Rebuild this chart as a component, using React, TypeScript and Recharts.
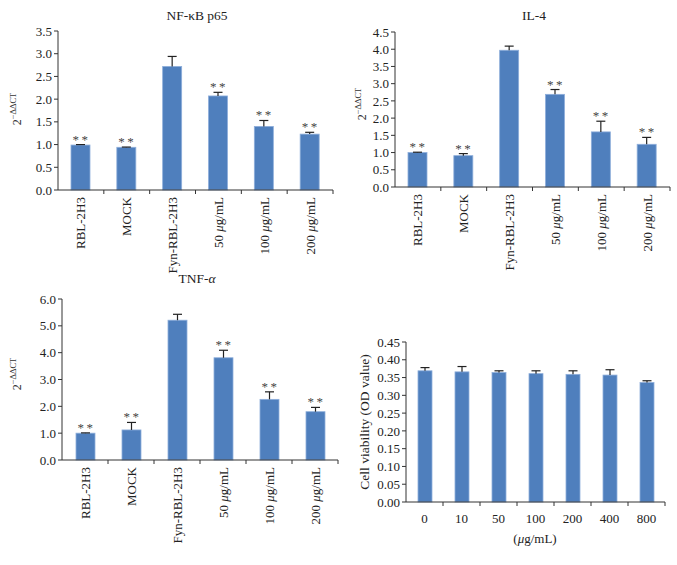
import React from 'react';
import { BarChart, Bar, XAxis, YAxis } from 'recharts';

const geneCategories = ['RBL-2H3', 'MOCK', 'Fyn-RBL-2H3', '50 μg/mL', '100 μg/mL', '200 μg/mL'];
const geneSignificance = ['**', '**', '', '**', '**', '**'];

const nfkbValues = [0.99, 0.94, 2.72, 2.07, 1.4, 1.23];
const nfkbErrors = [0.01, 0.005, 0.22, 0.08, 0.13, 0.04];
const nfkbTicks = [0, 0.5, 1, 1.5, 2, 2.5, 3, 3.5];

const il4Values = [1.0, 0.91, 3.97, 2.69, 1.6, 1.24];
const il4Errors = [0.01, 0.06, 0.12, 0.14, 0.31, 0.2];
const il4Ticks = [0, 0.5, 1, 1.5, 2, 2.5, 3, 3.5, 4, 4.5];

const tnfValues = [1.0, 1.12, 5.21, 3.81, 2.26, 1.8];
const tnfErrors = [0.01, 0.28, 0.22, 0.28, 0.28, 0.16];
const tnfTicks = [0, 1, 2, 3, 4, 5, 6];

const doseCategories = ['0', '10', '50', '100', '200', '400', '800'];
const viabilityValues = [0.369, 0.366, 0.364, 0.361, 0.359, 0.357, 0.336];
const viabilityErrors = [0.009, 0.015, 0.005, 0.008, 0.01, 0.015, 0.005];
const viabilityTicks = [0, 0.05, 0.1, 0.15, 0.2, 0.25, 0.3, 0.35, 0.4, 0.45];

const FONT = '"Liberation Serif", "Times New Roman", serif';
const BAR = '#4f7fbd';
const TEXT = '#222';

function build(cats: string[], vals: number[], errs: number[], sig?: string[]) {
  return cats.map((c, i) => ({ name: c, value: vals[i], err: errs[i], sig: sig ? sig[i] : '' }));
}

const ErrShape = (props: any) => {
  const { x, y, width, height, payload } = props;
  if (!payload || !(height > 0)) return null;
  const ppu = height / payload.value;
  const top = y - payload.err * ppu;
  const cx = x + width / 2;
  return (
    <g>
      <rect x={x} y={y} width={width} height={height} fill={BAR} stroke="#8eaedb" strokeWidth={0.8} />
      <line x1={cx} x2={cx} y1={y} y2={top} stroke="#222" strokeWidth={1.2} />
      <line x1={cx - 4.5} x2={cx + 4.5} y1={top} y2={top} stroke="#222" strokeWidth={1.2} />
      {payload.sig ? (
        <text x={cx + 1} y={top - 1} textAnchor="middle" fontFamily={FONT} fontSize={13} fill="#444" letterSpacing={2.5}>
          {payload.sig}
        </text>
      ) : null}
    </g>
  );
};

const renderLabel = (s: string) => {
  const idx = s.indexOf('μ');
  if (idx < 0) return s;
  return [
    <tspan key="a">{s.slice(0, idx)}</tspan>,
    <tspan key="b" fontStyle="italic">μ</tspan>,
    <tspan key="c">{s.slice(idx + 1)}</tspan>,
  ];
};

const makeCatTick = (fallbackHalf: number, rotated: boolean) => (props: any) => {
  const { x, y, payload } = props;
  const half = payload && payload.offset ? payload.offset : fallbackHalf;
  return (
    <g>
      <line x1={x + half} x2={x + half} y1={y} y2={y + 4} stroke="#333" strokeWidth={1} />
      {rotated ? (
        <text
          transform={`translate(${x},${y + 7}) rotate(-90)`}
          textAnchor="end"
          dominantBaseline="central"
          fontFamily={FONT}
          fontSize={13}
          fill={TEXT}
        >
          {renderLabel(String(payload.value))}
        </text>
      ) : (
        <text x={x} y={y + 16} textAnchor="middle" dominantBaseline="central" fontFamily={FONT} fontSize={13} fill={TEXT}>
          {String(payload.value)}
        </text>
      )}
    </g>
  );
};

type PanelProps = {
  data: any[];
  ticks: number[];
  digits: number;
  width: number;
  height: number;
  margin: any;
  yWidth: number;
  xHeight: number;
  barSize: number;
  rotated: boolean;
  fallbackHalf: number;
};

const Panel = (p: PanelProps) => (
  <BarChart width={p.width} height={p.height} data={p.data} margin={p.margin}>
    <XAxis
      dataKey="name"
      interval={0}
      tickLine={false}
      tickSize={0}
      tickMargin={0}
      height={p.xHeight}
      axisLine={{ stroke: '#333' }}
      tick={makeCatTick(p.fallbackHalf, p.rotated)}
    />
    <YAxis
      width={p.yWidth}
      domain={[0, p.ticks[p.ticks.length - 1]]}
      ticks={p.ticks}
      interval={0}
      tickSize={4}
      tickMargin={2}
      tickLine={{ stroke: '#333' }}
      axisLine={{ stroke: '#333' }}
      tick={{ fontFamily: FONT, fontSize: 13, fill: TEXT }}
      tickFormatter={(v: number) => v.toFixed(p.digits)}
    />
    <Bar dataKey="value" barSize={p.barSize} shape={ErrShape} isAnimationActive={false} />
  </BarChart>
);

const YLab = ({ x, y }: { x: number; y: number }) => (
  <text transform={`translate(${x},${y}) rotate(-90)`} textAnchor="middle" fontFamily={FONT} fontSize={12} fill="#333">
    <tspan>2</tspan>
    <tspan dy={-5} fontSize={8.5}>−ΔΔCT</tspan>
  </text>
);

export default function App() {
  const nfkb = build(geneCategories, nfkbValues, nfkbErrors, geneSignificance);
  const il4 = build(geneCategories, il4Values, il4Errors, geneSignificance);
  const tnf = build(geneCategories, tnfValues, tnfErrors, geneSignificance);
  const cell = build(doseCategories, viabilityValues, viabilityErrors);

  return (
    <div style={{ position: 'absolute', left: 0, top: 0, width: 677, height: 565, background: '#fff' }}>
      <div style={{ position: 'absolute', left: 0, top: 0 }}>
        <Panel data={nfkb} ticks={nfkbTicks} digits={1} width={340} height={280}
          margin={{ top: 31, right: 7, left: 0, bottom: 10 }} yWidth={58} xHeight={80}
          barSize={19} rotated fallbackHalf={23} />
      </div>
      <div style={{ position: 'absolute', left: 337, top: 0 }}>
        <Panel data={il4} ticks={il4Ticks} digits={1} width={340} height={280}
          margin={{ top: 32, right: 7, left: 0, bottom: 13 }} yWidth={58} xHeight={80}
          barSize={19} rotated fallbackHalf={23} />
      </div>
      <div style={{ position: 'absolute', left: 0, top: 280 }}>
        <Panel data={tnf} ticks={tnfTicks} digits={1} width={340} height={285}
          margin={{ top: 19, right: 2, left: 0, bottom: 25 }} yWidth={62} xHeight={80}
          barSize={19} rotated fallbackHalf={23} />
      </div>
      <div style={{ position: 'absolute', left: 337, top: 280 }}>
        <Panel data={cell} ticks={viabilityTicks} digits={2} width={340} height={285}
          margin={{ top: 62, right: 12, left: 0, bottom: 33 }} yWidth={69} xHeight={30}
          barSize={14} rotated={false} fallbackHalf={18.5} />
      </div>
      <svg width={677} height={565} style={{ position: 'absolute', left: 0, top: 0, pointerEvents: 'none' }}>
        <text x={197} y={15} textAnchor="middle" dominantBaseline="central" fontFamily={FONT} fontSize={13.5} fill={TEXT}>NF-κB p65</text>
        <text x={534} y={15} textAnchor="middle" dominantBaseline="central" fontFamily={FONT} fontSize={13.5} fill={TEXT}>IL-4</text>
        <text x={197} y={278} textAnchor="middle" dominantBaseline="central" fontFamily={FONT} fontSize={13.5} fill={TEXT}>
          TNF-<tspan fontStyle="italic">α</tspan>
        </text>
        <YLab x={21} y={109} />
        <YLab x={366} y={104} />
        <YLab x={21} y={374} />
        <text transform="translate(364,422) rotate(-90)" textAnchor="middle" dominantBaseline="central" fontFamily={FONT} fontSize={13.5} fill={TEXT}>
          Cell viability (OD value)
        </text>
        <text x={535} y={538} textAnchor="middle" dominantBaseline="central" fontFamily={FONT} fontSize={13} fill={TEXT}>
          (<tspan fontStyle="italic">μ</tspan>g/mL)
        </text>
      </svg>
    </div>
  );
}
